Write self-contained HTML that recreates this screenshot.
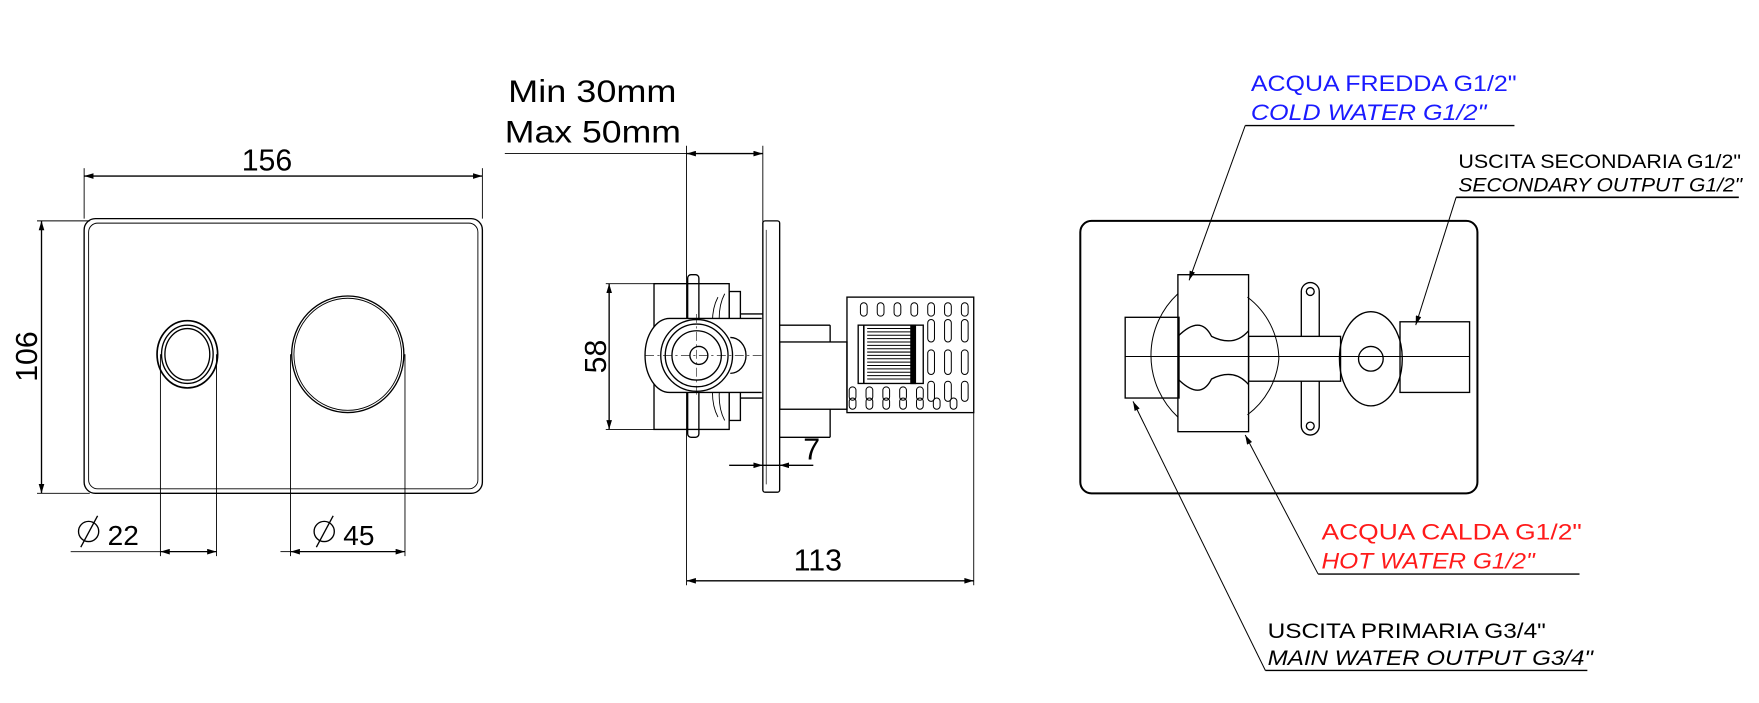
<!DOCTYPE html>
<html><head><meta charset="utf-8"><style>
html,body{margin:0;padding:0;background:#fff;}
svg{display:block;}
text{font-family:"Liberation Sans",sans-serif;}
</style></head><body>
<svg width="1759" height="703" viewBox="0 0 1568 627" preserveAspectRatio="none" xmlns="http://www.w3.org/2000/svg">
<defs>
<marker id="a" viewBox="0 0 10 6" refX="10" refY="3" markerWidth="12" markerHeight="5" orient="auto-start-reverse" markerUnits="userSpaceOnUse"><path d="M0,0 L10,3 L0,6 Z" fill="#000"/></marker>
</defs>
<g fill="none" stroke="#000" stroke-width="1.2">
<!-- LEFT VIEW -->
<rect x="75" y="195" width="355" height="245" rx="10"/>
<rect x="79" y="199" width="347" height="237" rx="8" stroke-width="0.8"/>
<line x1="75" y1="150" x2="75" y2="195" stroke-width="0.8"/>
<line x1="430" y1="150" x2="430" y2="195" stroke-width="0.8"/>
<line x1="75" y1="157" x2="430" y2="157" marker-start="url(#a)" marker-end="url(#a)"/>
<line x1="33" y1="197" x2="80" y2="197" stroke-width="0.8"/>
<line x1="33" y1="440" x2="80" y2="440" stroke-width="0.8"/>
<line x1="37" y1="197" x2="37" y2="440" marker-start="url(#a)" marker-end="url(#a)"/>
<ellipse cx="167" cy="316" rx="27" ry="30" stroke-width="1.5"/>
<ellipse cx="167" cy="316" rx="23" ry="26"/>
<ellipse cx="167" cy="316" rx="20" ry="23"/>
<ellipse cx="310" cy="316" rx="50" ry="52"/>
<ellipse cx="310" cy="316" rx="48" ry="50" stroke-width="0.8"/>
<g stroke-width="0.8">
<line x1="143" y1="316" x2="143" y2="496"/><line x1="193" y1="316" x2="193" y2="496"/>
<line x1="259" y1="316" x2="259" y2="496"/><line x1="361" y1="316" x2="361" y2="496"/>
<line x1="63" y1="492" x2="143" y2="492"/>
<line x1="250" y1="492" x2="259" y2="492"/>
</g>
<line x1="143" y1="492" x2="193" y2="492" marker-start="url(#a)" marker-end="url(#a)"/>
<line x1="259" y1="492" x2="361" y2="492" marker-start="url(#a)" marker-end="url(#a)"/>
<circle cx="79" cy="474" r="9"/><line x1="72" y1="488" x2="87" y2="460"/>
<circle cx="289" cy="474" r="9"/><line x1="282" y1="488" x2="297" y2="460"/>

<!-- MIDDLE VIEW -->
<line x1="450" y1="137" x2="612" y2="137" stroke-width="0.8"/>
<line x1="612" y1="137" x2="680" y2="137" marker-start="url(#a)" marker-end="url(#a)"/>
<line x1="612" y1="130" x2="612" y2="522" stroke-width="0.8"/>
<line x1="680" y1="130" x2="680" y2="200" stroke-width="0.8"/>
<rect x="680" y="197" width="15" height="242" rx="2"/>
<line x1="683" y1="205" x2="683" y2="432" stroke-width="0.6"/>
<line x1="540" y1="253" x2="585" y2="253" stroke-width="0.8"/>
<line x1="540" y1="383" x2="585" y2="383" stroke-width="0.8"/>
<line x1="543" y1="253" x2="543" y2="383" marker-start="url(#a)" marker-end="url(#a)"/>
<rect x="583" y="253" width="67" height="130"/>
<rect x="613" y="245" width="10" height="145" rx="3"/>
<path d="M640 265 q-8 15 -3 40 M646 262 q-8 15 -3 40 M640 372 q-8 -15 -3 -40 M646 375 q-8 -15 -3 -40" stroke-width="0.8"/>
<rect x="650" y="260" width="10" height="30"/><rect x="650" y="345" width="10" height="30"/>
<line x1="660" y1="280" x2="680" y2="280"/><line x1="660" y1="355" x2="680" y2="355"/>
<path d="M679 284 H597 a22 33 0 0 0 0 66 H679" fill="#fff"/>
<circle cx="621" cy="317" r="32"/>
<circle cx="621" cy="317" r="28"/>
<circle cx="621" cy="317" r="22"/>
<circle cx="623" cy="317" r="8"/>
<path d="M651 301 a14 16 0 0 1 0 32" />
<line x1="575" y1="317" x2="680" y2="317" stroke-width="0.5" stroke-dasharray="8 3 2 3"/>
<line x1="621" y1="280" x2="621" y2="352" stroke-width="0.5" stroke-dasharray="8 3 2 3"/>
<rect x="695" y="305" width="60" height="60"/>
<line x1="695" y1="290" x2="740" y2="290"/><line x1="740" y1="290" x2="740" y2="305"/>
<line x1="695" y1="390" x2="740" y2="390"/><line x1="740" y1="365" x2="740" y2="390"/>
<rect x="755" y="265" width="113" height="103"/>
<rect x="765" y="290" width="58" height="52" fill="#fff"/>
<line x1="770" y1="290" x2="770" y2="342" stroke-width="1.4"/>
<path d="M773 293 h40 M773 296 h40 M773 299 h40 M773 302 h40 M773 305 h40 M773 308 h40 M773 311 h40 M773 314 h40 M773 317 h40 M773 320 h40 M773 323 h40 M773 326 h40 M773 329 h40 M773 332 h40 M773 335 h40 M773 338 h40" stroke-width="0.9"/>
<rect x="812" y="290" width="4" height="52" fill="#000"/>
<g stroke-width="0.9">
<rect x="767" y="270" width="6" height="12" rx="3"/><rect x="782" y="270" width="6" height="12" rx="3"/><rect x="797" y="270" width="6" height="12" rx="3"/><rect x="812" y="270" width="6" height="12" rx="3"/><rect x="827" y="270" width="6" height="12" rx="3"/><rect x="842" y="270" width="6" height="12" rx="3"/><rect x="857" y="270" width="6" height="12" rx="3"/>
<rect x="827" y="285" width="6" height="20" rx="3"/><rect x="842" y="285" width="6" height="20" rx="3"/><rect x="857" y="285" width="6" height="20" rx="3"/>
<rect x="827" y="312" width="6" height="22" rx="3"/><rect x="842" y="312" width="6" height="22" rx="3"/><rect x="857" y="312" width="6" height="22" rx="3"/>
<rect x="827" y="340" width="6" height="18" rx="3"/><rect x="842" y="340" width="6" height="18" rx="3"/><rect x="857" y="340" width="6" height="18" rx="3"/>
<rect x="757" y="345" width="6" height="12" rx="3"/><rect x="772" y="345" width="6" height="12" rx="3"/><rect x="787" y="345" width="6" height="12" rx="3"/><rect x="802" y="345" width="6" height="12" rx="3"/><rect x="817" y="345" width="6" height="12" rx="3"/>
<rect x="757" y="355" width="6" height="10" rx="3"/><rect x="772" y="355" width="6" height="10" rx="3"/><rect x="787" y="355" width="6" height="10" rx="3"/><rect x="802" y="355" width="6" height="10" rx="3"/><rect x="817" y="355" width="6" height="10" rx="3"/><rect x="832" y="355" width="6" height="10" rx="3"/><rect x="847" y="355" width="6" height="10" rx="3"/>
</g>
<line x1="868" y1="368" x2="868" y2="522" stroke-width="0.8"/>
<line x1="612" y1="518" x2="868" y2="518" marker-start="url(#a)" marker-end="url(#a)"/>
<line x1="650" y1="415" x2="680" y2="415" marker-end="url(#a)"/>
<line x1="725" y1="415" x2="695" y2="415" marker-end="url(#a)"/>
<line x1="680" y1="415" x2="695" y2="415"/>

<!-- RIGHT VIEW -->
<rect x="963" y="197" width="354" height="243" rx="10" stroke-width="1.8"/>
<path d="M1050 262 a75 75 0 0 0 0 110" stroke-width="0.9"/>
<path d="M1112 265 a70 70 0 0 1 28 55 a70 70 0 0 1 -28 50" stroke-width="0.9"/>
<rect x="1003" y="283" width="48" height="72"/>
<rect x="1050" y="245" width="63" height="140"/>
<path d="M1050 300 q20 -20 30 0 q20 10 33 -5 M1050 338 q20 20 30 0 q20 -10 33 5"/>
<rect x="1113" y="300" width="82" height="40"/>
<path d="M1160 300 v-40 a8 8 0 0 1 16 0 v40 M1160 340 v40 a8 8 0 0 0 16 0 v-40"/>
<circle cx="1168" cy="260" r="3.5"/><circle cx="1168" cy="380" r="3.5"/>
<ellipse cx="1222" cy="320" rx="28" ry="42"/>
<circle cx="1222" cy="320" r="11"/>
<rect x="1248" y="287" width="62" height="63"/>
<line x1="1003" y1="318" x2="1310" y2="318" stroke-width="0.9"/>
<line x1="1110" y1="112" x2="1350" y2="112"/>
<line x1="1110" y1="112" x2="1060" y2="250" marker-end="url(#a)" stroke-width="0.9"/>
<line x1="1298" y1="176" x2="1550" y2="176" stroke-width="1.5"/>
<line x1="1298" y1="176" x2="1262" y2="290" marker-end="url(#a)" stroke-width="0.9"/>
<line x1="1175" y1="512" x2="1408" y2="512"/>
<line x1="1175" y1="512" x2="1110" y2="388" marker-end="url(#a)" stroke-width="0.9"/>
<line x1="1128" y1="598" x2="1415" y2="598"/>
<line x1="1128" y1="598" x2="1010" y2="358" marker-end="url(#a)" stroke-width="0.9"/>
</g>
<g fill="#000">
<text x="238" y="152" font-size="27" text-anchor="middle">156</text>
<text transform="translate(33,318) rotate(-90)" font-size="27" text-anchor="middle">106</text>
<text x="96" y="486" font-size="25">22</text>
<text x="306" y="486" font-size="25">45</text>
<text x="453" y="91" font-size="28" textLength="150" lengthAdjust="spacingAndGlyphs">Min 30mm</text>
<text x="450" y="127" font-size="28" textLength="157" lengthAdjust="spacingAndGlyphs">Max 50mm</text>
<text transform="translate(540,318) rotate(-90)" font-size="27" text-anchor="middle">58</text>
<text x="716" y="410" font-size="27">7</text>
<text x="729" y="509" font-size="27" text-anchor="middle">113</text>
<text x="1115" y="81" font-size="20" fill="#1a1aff" textLength="237" lengthAdjust="spacingAndGlyphs">ACQUA FREDDA G1/2"</text>
<text x="1115" y="107" font-size="20" fill="#1a1aff" font-style="italic" textLength="210" lengthAdjust="spacingAndGlyphs">COLD WATER G1/2"</text>
<text x="1300" y="150" font-size="17" textLength="252" lengthAdjust="spacingAndGlyphs">USCITA SECONDARIA G1/2"</text>
<text x="1300" y="171" font-size="17" font-style="italic" textLength="253" lengthAdjust="spacingAndGlyphs">SECONDARY OUTPUT G1/2"</text>
<text x="1178" y="481" font-size="20" fill="#ff1a1a" textLength="232" lengthAdjust="spacingAndGlyphs">ACQUA CALDA G1/2"</text>
<text x="1178" y="507" font-size="20" fill="#ff1a1a" font-style="italic" textLength="190" lengthAdjust="spacingAndGlyphs">HOT WATER G1/2"</text>
<text x="1130" y="569" font-size="19" textLength="248" lengthAdjust="spacingAndGlyphs">USCITA PRIMARIA G3/4"</text>
<text x="1130" y="593" font-size="19" font-style="italic" textLength="290" lengthAdjust="spacingAndGlyphs">MAIN WATER OUTPUT G3/4"</text>
</g>
</svg>
</body></html>
